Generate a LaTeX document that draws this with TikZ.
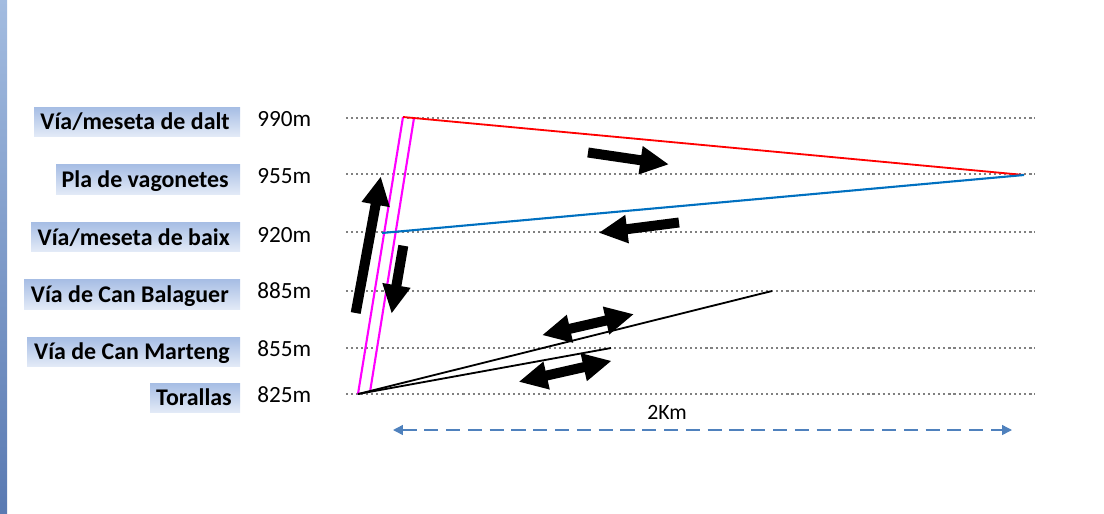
\documentclass[tikz,border=0pt]{standalone}
\usepackage{fontspec}
\setmainfont{Carlito}
\usetikzlibrary{calc,arrows.meta}
\definecolor{stripA}{RGB}{163,188,224}
\definecolor{stripB}{RGB}{90,122,178}
\definecolor{boxtop}{RGB}{166,189,228}
\definecolor{boxbot}{RGB}{226,234,247}
\definecolor{viablue}{RGB}{0,112,192}
\definecolor{viamag}{RGB}{255,0,255}
\definecolor{viared}{RGB}{255,0,0}
\definecolor{kmblue}{RGB}{79,129,189}
\definecolor{dotgray}{RGB}{128,128,128}
\tikzset{
  level/.style={dotgray,line width=1.5pt,dash pattern=on 1.5pt off 2.1pt},
  nivell/.style={font=\fontsize{16.5}{19}\selectfont,anchor=base west,inner sep=0pt},
  lloc/.style={font=\fontsize{17}{20}\selectfont\bfseries,anchor=base east,inner sep=0pt},
  lbox/.style={top color=boxtop,bottom color=boxbot}
}
% fat block arrows: tail, tip
\newcommand{\blockarrow}[2]{%
  \coordinate (ba-h) at ($(#2)!0.7cm!(#1)$);
  \fill ($(#1)!0.125cm!90:(#2)$) -- ($(ba-h)!0.125cm!90:(#2)$) -- ($(ba-h)!0.36cm!90:(#2)$) -- (#2)
    -- ($(ba-h)!0.36cm!-90:(#2)$) -- ($(ba-h)!0.125cm!-90:(#2)$) -- ($(#1)!0.125cm!-90:(#2)$) -- cycle;
}
\newcommand{\dblblockarrow}[2]{%
  \coordinate (da-a) at ($(#1)!0.7cm!(#2)$);
  \coordinate (da-b) at ($(#2)!0.7cm!(#1)$);
  \fill (#1) -- ($(da-a)!0.36cm!90:(#2)$) -- ($(da-a)!0.125cm!90:(#2)$) -- ($(da-b)!0.125cm!90:(#2)$)
    -- ($(da-b)!0.36cm!90:(#2)$) -- (#2) -- ($(da-b)!0.36cm!-90:(#2)$) -- ($(da-b)!0.125cm!-90:(#2)$)
    -- ($(da-a)!0.125cm!-90:(#2)$) -- ($(da-a)!0.36cm!-90:(#2)$) -- cycle;
}
\begin{document}
\begin{tikzpicture}[x=0.025cm,y=-0.025cm]
        \useasboundingbox (0,0) rectangle (1104,513);
        \shade[top color=stripA,bottom color=stripB] (0,0) rectangle (7,513);
        % altituds
        \draw[level] (346,118)--(1035,118);
        \draw[level] (346,174)--(1035,174);
        \draw[level] (346,232)--(1035,232);
        \draw[level] (346,291)--(1035,291);
        \draw[level] (346,348)--(1035,348);
        \draw[level] (346,394)--(1035,394);
        \shade[lbox] (34,107) rectangle (240,136);
        \shade[lbox] (56,164) rectangle (240,194);
        \shade[lbox] (31,222) rectangle (240,251);
        \shade[lbox] (24,279) rectangle (240,309);
        \shade[lbox] (27,337) rectangle (240,366);
        \shade[lbox] (150,383) rectangle (240,412);
        \node[lloc] (dalt-t) at (230,129.5) {Vía/meseta de dalt};
        \node[lloc] (vagon-t) at (229,187) {Pla de vagonetes};
        \node[lloc] (baix-t) at (230,245) {Vía/meseta de baix};
        \node[lloc] (balag-t) at (229,302) {Vía de Can Balaguer};
        \node[lloc] (marteng-t) at (230,359) {Vía de Can Marteng};
        \node[lloc] (toral-t) at (232,405.5) {Torallas};
        \node[nivell] (n990) at (257,126) {990m};
        \node[nivell] (n955) at (257,183) {955m};
        \node[nivell] (n920) at (257,242) {920m};
        \node[nivell] (n885) at (257,298) {885m};
        \node[nivell] (n855) at (257,356) {855m};
        \node[nivell] (n825) at (257,402) {825m};
        % vies
        \coordinate (toral) at (358,394);
        \coordinate (toralb) at (370,392);
        \coordinate (dalt) at (403,117);
        \coordinate (daltb) at (414,118);
        \coordinate (vagon) at (1024,175);
        \coordinate (baix) at (382,233);
        \coordinate (balag) at (772,291);
        \coordinate (marteng) at (611,348);
        \draw[viamag,line width=1.5pt] (toral)--(dalt);
        \draw[viamag,line width=1.5pt] (toralb)--(daltb);
        \draw[viared,line width=1.3pt] (dalt)--(vagon);
        \draw[viablue,line width=1.5pt] (baix)--(vagon);
        \draw[line width=1.3pt] (toral)--(balag);
        \draw[line width=1.3pt] (toral)--(marteng);
        % sentit
        \blockarrow{355.7,313}{380.7,177}
        \blockarrow{403.3,245.7}{391.7,313}
        \blockarrow{588,152.5}{668.3,164.3}
        \blockarrow{679,222.5}{599.3,232.7}
        \dblblockarrow{542.7,335}{633.3,314.3}
        \dblblockarrow{519.3,381.7}{611,361}
        % escala
        \coordinate (kmA) at (393,430);
        \coordinate (kmB) at (1012,430);
        \draw[kmblue,line width=1pt,dash pattern=on 10pt off 5.5pt,{Triangle[length=7pt,width=7pt]}-{Triangle[length=7pt,width=7pt]}] (kmA)--(kmB);
        \node[font=\fontsize{15.5}{18}\selectfont,anchor=base,inner sep=0pt] (km) at (667,419) {2Km};
\end{tikzpicture}
\end{document}
